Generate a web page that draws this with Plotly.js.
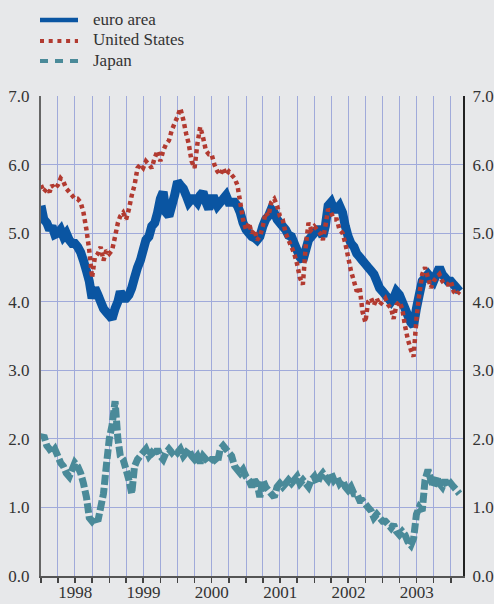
<!DOCTYPE html>
<html>
<head>
<meta charset="utf-8">
<script src="https://cdn.plot.ly/plotly-3.0.1.min.js"></script>
<style>
  html, body { margin: 0; padding: 0; background: #e7e8ea; }
  #chart { width: 494px; height: 604px; }
</style>
</head>
<body>
<div id="chart"></div>
<script>
// Semi-monthly observation dates (1st and 16th of each month), Jan 1998 - Feb 2004
const dates = [];
for (let i = 0; i < 148; i++) {
  const y = 1998 + Math.floor(i / 24);
  const m = Math.floor((i % 24) / 2) + 1;
  const d = (i % 2) ? '16' : '01';
  dates.push(y + '-' + String(m).padStart(2, '0') + '-' + d);
}

// Ten-year government bond yields (% p.a.)
const euroArea = [
  5.4, 5.2, 5.15, 5.05, 5.1, 4.98, 5.0, 5.05, 4.95, 5.0,
  4.9, 4.85, 4.85, 4.8, 4.72, 4.6, 4.45, 4.3, 4.05, 4.2,
  4.1, 4.0, 3.9, 3.85, 3.8, 3.75, 3.9, 4.0, 4.15, 4.05,
  4.05, 4.1, 4.2, 4.35, 4.5, 4.6, 4.75, 4.9, 4.95, 5.1,
  5.15, 5.3, 5.5, 5.6, 5.3, 5.25, 5.4, 5.55, 5.75, 5.7,
  5.65, 5.55, 5.45, 5.5, 5.5, 5.45, 5.55, 5.6, 5.45, 5.35,
  5.5, 5.5, 5.4, 5.45, 5.5, 5.55, 5.45, 5.45, 5.45, 5.4,
  5.3, 5.15, 5.05, 5.0, 4.95, 4.93, 4.9, 4.95, 5.1, 5.2,
  5.25, 5.35, 5.3, 5.2, 5.15, 5.1, 5.05, 4.97, 4.95, 4.85,
  4.75, 4.65, 4.6, 4.75, 4.9, 4.95, 5.0, 5.05, 5.05, 4.95,
  5.1, 5.4, 5.45, 5.35, 5.35, 5.4, 5.3, 5.1, 4.95, 4.85,
  4.8, 4.7, 4.65, 4.6, 4.55, 4.5, 4.45, 4.4, 4.3, 4.2,
  4.15, 4.1, 4.05, 4.0, 4.05, 4.15, 4.1, 4.0, 3.9, 3.8,
  3.7, 3.65, 3.9, 4.1, 4.3, 4.35, 4.4, 4.35, 4.3, 4.4,
  4.5, 4.4, 4.35, 4.3, 4.3, 4.25, 4.2, 4.15
];

const unitedStates = [
  5.7, 5.6, 5.65, 5.6, 5.7, 5.65, 5.7, 5.8, 5.75, 5.65,
  5.6, 5.55, 5.5, 5.5, 5.45, 5.3, 5.05, 4.75, 4.35, 4.65,
  4.7, 4.8, 4.6, 4.75, 4.7, 4.75, 4.95, 5.15, 5.25, 5.3,
  5.2, 5.35, 5.55, 5.7, 5.95, 6.0, 5.95, 6.05, 6.0, 5.95,
  6.1, 6.2, 6.05, 6.2, 6.3, 6.35, 6.5, 6.6, 6.7, 6.82,
  6.65, 6.45, 6.3, 6.05, 5.95, 6.3, 6.55, 6.4, 6.2, 6.15,
  6.15, 6.0, 5.9, 5.85, 5.95, 5.85, 5.9, 5.85, 5.8, 5.7,
  5.45, 5.2, 5.05, 5.15, 5.0, 5.05, 4.9, 4.95, 5.1, 5.3,
  5.25, 5.45, 5.5, 5.4, 5.25, 5.2, 5.0, 4.9, 4.8, 4.7,
  4.55, 4.35, 4.25, 4.8, 5.15, 5.05, 5.1, 5.05, 5.0, 4.9,
  5.1, 5.35, 5.3, 5.2, 5.2, 5.05, 5.0, 4.85, 4.65, 4.45,
  4.3, 4.15, 4.2, 3.85, 3.7, 4.0, 4.05, 3.95, 4.05, 3.95,
  4.0, 4.05, 3.95, 3.9, 3.75, 3.95, 4.0, 3.9, 3.65, 3.45,
  3.3, 3.2, 3.75, 4.1, 4.4, 4.5, 4.35, 4.2, 4.3, 4.35,
  4.4, 4.3, 4.25, 4.25, 4.3, 4.15, 4.1, 4.15
];

const japan = [
  2.0, 2.05, 1.9, 1.85, 1.8, 1.85, 1.75, 1.65, 1.6, 1.5,
  1.45, 1.55, 1.65, 1.6, 1.5, 1.35, 1.15, 0.85, 0.8, 0.85,
  0.8, 1.0, 1.2, 1.6, 2.0, 2.2, 2.55, 2.0, 1.75, 1.7,
  1.55, 1.4, 1.2, 1.6, 1.7, 1.75, 1.8, 1.85, 1.75, 1.8,
  1.75, 1.85, 1.75, 1.7, 1.8, 1.85, 1.8, 1.85, 1.8, 1.85,
  1.75, 1.8, 1.85, 1.75, 1.7, 1.75, 1.65, 1.75, 1.7, 1.65,
  1.7, 1.7, 1.65, 1.85, 1.9, 1.85, 1.8, 1.75, 1.6, 1.55,
  1.5, 1.55, 1.45, 1.4, 1.3, 1.4, 1.35, 1.15, 1.4, 1.3,
  1.25, 1.2, 1.15, 1.3, 1.35, 1.3, 1.35, 1.4, 1.35, 1.4,
  1.45, 1.35, 1.4, 1.35, 1.3, 1.4, 1.45, 1.35, 1.45, 1.5,
  1.45, 1.4, 1.5, 1.4, 1.45, 1.35, 1.4, 1.3, 1.25, 1.3,
  1.2, 1.2, 1.1, 1.1, 1.05, 1.0, 0.95, 0.85, 0.9, 0.85,
  0.8, 0.8, 0.75, 0.7, 0.75, 0.65, 0.6, 0.65, 0.6, 0.5,
  0.45, 0.55, 0.9, 1.0, 0.95, 1.4, 1.55, 1.4, 1.3, 1.45,
  1.35, 1.3, 1.4, 1.3, 1.35, 1.3, 1.25, 1.2
];

const seriesNames = ['euro area', 'United States', 'Japan'];
const yTickVals = [0, 1, 2, 3, 4, 5, 6, 7];

const BLUE = '#0a55a2';
const RED = '#b23a30';
const TEAL = '#4a8a99';
const GRID = '#a0aada';
const BG = '#e7e8ea';
const FONT = '"Liberation Serif", "DejaVu Serif", serif';

const traces = [
  { x: dates, y: euroArea, name: seriesNames[0], type: 'scatter', mode: 'lines',
    line: { color: BLUE, width: 9, simplify: false }, showlegend: false, hoverinfo: 'skip' },
  { x: dates, y: unitedStates, name: seriesNames[1], type: 'scatter', mode: 'lines',
    line: { color: RED, width: 4.5, dash: '4px,3.5px', simplify: false }, showlegend: false, hoverinfo: 'skip' },
  { x: dates, y: japan, name: seriesNames[2], type: 'scatter', mode: 'lines', yaxis: 'y2',
    line: { color: TEAL, width: 7, dash: '10px,3px', simplify: false }, showlegend: false, hoverinfo: 'skip' }
];

// legend drawn in paper coordinates above the plot area
const L = 41, R = 463, T = 96, B = 576;
const px = v => (v - L) / (R - L);
const py = v => (B - v) / (B - T);
const legendRows = [20, 41, 61];
const legendStyles = [
  { color: BLUE, width: 4.5, dash: 'solid' },
  { color: RED, width: 4, dash: '4px,4.7px' },
  { color: TEAL, width: 4, dash: '8px,7px' }
];
const shapes = legendRows.map((yy, k) => ({
  type: 'line', xref: 'paper', yref: 'paper',
  x0: px(40), x1: px(78), y0: py(yy), y1: py(yy),
  line: legendStyles[k]
}));
const annotations = legendRows.map((yy, k) => ({
  xref: 'paper', yref: 'paper', x: px(91), y: py(yy - 1),
  xanchor: 'left', yanchor: 'middle', showarrow: false,
  text: seriesNames[k], font: { family: FONT, size: 17, color: '#333' }
}));

const yCommon = {
  range: [0, 7], tickvals: yTickVals, tickformat: '.1f',
  tickfont: { family: FONT, size: 17, color: '#333' },
  ticks: '', fixedrange: true, zeroline: false
};

const layout = {
  width: 494, height: 604,
  margin: { l: L, r: 494 - R, t: T, b: 604 - B, pad: 0 },
  paper_bgcolor: BG, plot_bgcolor: BG,
  showlegend: false,
  xaxis: {
    type: 'date', range: ['1998-01-01', '2004-03-06'],
    dtick: 'M12', tick0: '1998-01-01', ticklabelmode: 'period', tickformat: '%Y',
    tickfont: { family: FONT, size: 17, color: '#333' },
    ticks: 'outside', ticklen: 5, tickwidth: 1.5, tickcolor: '#444',
    ticklabelstandoff: -5,
    showgrid: true, gridcolor: GRID, gridwidth: 1,
    minor: { dtick: 'M3', tick0: '1998-01-01', ticks: 'outside', ticklen: 5, tickwidth: 1.5,
             tickcolor: '#444', showgrid: true, gridcolor: GRID, gridwidth: 1 },
    showline: true, linecolor: '#555', linewidth: 2,
    zeroline: false, fixedrange: true
  },
  yaxis: Object.assign({}, yCommon, {
    side: 'left', showgrid: true, gridcolor: GRID, gridwidth: 1,
    showline: true, linecolor: '#666', linewidth: 2, ticklabelstandoff: 6
  }),
  yaxis2: Object.assign({}, yCommon, {
    side: 'right', overlaying: 'y', showgrid: false,
    showline: true, linecolor: '#222', linewidth: 2, ticklabelstandoff: 4
  }),
  shapes: shapes,
  annotations: annotations
};

Plotly.newPlot('chart', traces, layout, { staticPlot: true, displayModeBar: false });
</script>
</body>
</html>
